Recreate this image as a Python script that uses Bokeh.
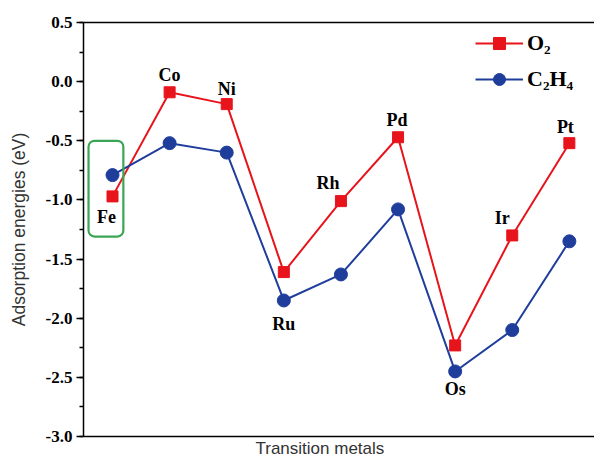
from bokeh.plotting import figure
from bokeh.models import (ColumnDataSource, Range1d, LinearAxis, FixedTicker, SingleIntervalTicker,
                          NumeralTickFormatter, Legend, LegendItem, BoxAnnotation, Title)
from bokeh.embed import file_html
from bokeh.resources import INLINE

# ---- data ----
metals = ["Fe", "Co", "Ni", "Ru", "Rh", "Pd", "Os", "Ir", "Pt"]
o2_energy = [-0.97, -0.09, -0.19, -1.61, -1.01, -0.47, -2.23, -1.30, -0.52]
c2h4_energy = [-0.79, -0.52, -0.60, -1.85, -1.63, -1.08, -2.45, -2.10, -1.35]
y_ticks_step = 0.5
y_min, y_max = -3.0, 0.5

# label placement style (which series the label sits next to, pixel offsets)
label_anchor = ["o2", "o2", "o2", "c2h4", "o2", "o2", "c2h4", "o2", "o2"]
label_dx = [-6, 0, 0, 0, -13, -1, 0, -10, -4]
label_dy = [21, -17, -15, 24, -18, -17, 18, -17, -16]

RED = "#e8141c"
BLUE = "#1f3e9c"
GREEN = "#3aa655"

xs = list(range(len(metals)))

p = figure(width=594, height=458, output_backend="svg", toolbar_location=None,
           x_range=Range1d(-0.508, 8.44), y_range=Range1d(y_min, y_max),
           min_border_left=83, min_border_right=0, min_border_top=22, min_border_bottom=22)
p.background_fill_color = "white"
p.border_fill_color = "white"
p.outline_line_color = None
p.xgrid.visible = False
p.ygrid.visible = False

# y axis
ya = p.yaxis[0]
ya.ticker = SingleIntervalTicker(interval=y_ticks_step, num_minor_ticks=2)
ya.formatter = NumeralTickFormatter(format="0.0")
ya.major_label_text_font = "Liberation Serif"
ya.major_label_text_font_style = "bold"
ya.major_label_text_font_size = "17px"
ya.major_label_text_color = "black"
ya.major_label_standoff = 4
ya.major_tick_in = 0
ya.major_tick_out = 7
ya.minor_tick_in = 0
ya.minor_tick_out = 4
ya.axis_line_width = 1.5
ya.major_tick_line_width = 1.5
ya.minor_tick_line_width = 1.5
ya.axis_label = "Adsorption energies (eV)"
ya.axis_label_text_font = "Liberation Sans"
ya.axis_label_text_font_style = "normal"
ya.axis_label_text_font_size = "17.5px"
ya.axis_label_text_color = "#333333"
ya.axis_label_standoff = 14

# x axis: line only
xa = p.xaxis[0]
xa.ticker = FixedTicker(ticks=[])
xa.major_label_text_font_size = "0px"
xa.major_label_standoff = 0
xa.major_tick_out = 0
xa.minor_tick_out = 0
xa.major_tick_line_color = None
xa.minor_tick_line_color = None
xa.axis_line_width = 1.5

# x axis title, below the axis line
p.add_layout(Title(text="Transition metals", align="left", offset=172, standoff=0,
                   text_font="Liberation Sans", text_font_style="normal",
                   text_font_size="17px", text_color="#333333"), "below")

# top line
top = LinearAxis(ticker=FixedTicker(ticks=[]), major_label_text_font_size="0px",
                 major_tick_line_color=None, minor_tick_line_color=None, axis_line_width=1.5,
                 major_tick_out=0, minor_tick_out=0, major_label_standoff=0)
p.add_layout(top, "above")

# green box around Fe
p.add_layout(BoxAnnotation(left=xs[0] - 0.42, right=xs[0] + 0.19, top=-0.50, bottom=-1.31,
                           fill_alpha=0, line_color=GREEN, line_alpha=1.0, line_width=2.2,
                           border_radius=6))

src = ColumnDataSource(dict(x=xs, o2=o2_energy, c2h4=c2h4_energy))
l1 = p.line("x", "o2", source=src, line_color=RED, line_width=2)
s1 = p.scatter("x", "o2", source=src, marker="square", size=11, fill_color=RED, line_color=RED)
l2 = p.line("x", "c2h4", source=src, line_color=BLUE, line_width=2)
s2 = p.scatter("x", "c2h4", source=src, marker="circle", size=13, fill_color=BLUE, line_color=BLUE)

# metal labels
ly = [o2_energy[i] if a == "o2" else c2h4_energy[i] for i, a in enumerate(label_anchor)]
lsrc = ColumnDataSource(dict(x=xs, y=ly, t=metals, dx=label_dx, dy=label_dy))
p.text("x", "y", text="t", source=lsrc, x_offset="dx", y_offset="dy",
       text_font="Liberation Serif", text_font_style="bold", text_font_size="18px",
       text_align="center", text_baseline="middle", text_color="black")

legend = Legend(items=[LegendItem(label="O\u2082", renderers=[l1, s1]),
                       LegendItem(label="C\u2082H\u2084", renderers=[l2, s2])],
                location=(392, 342), orientation="vertical",
                glyph_width=48, glyph_height=30, label_height=30, spacing=6, padding=0, margin=0,
                label_standoff=4, border_line_color=None, background_fill_alpha=0,
                label_text_font="Liberation Serif", label_text_font_style="bold",
                label_text_font_size="22px", label_text_color="black")
p.add_layout(legend)

open("out.html", "w").write(file_html(p, INLINE))
